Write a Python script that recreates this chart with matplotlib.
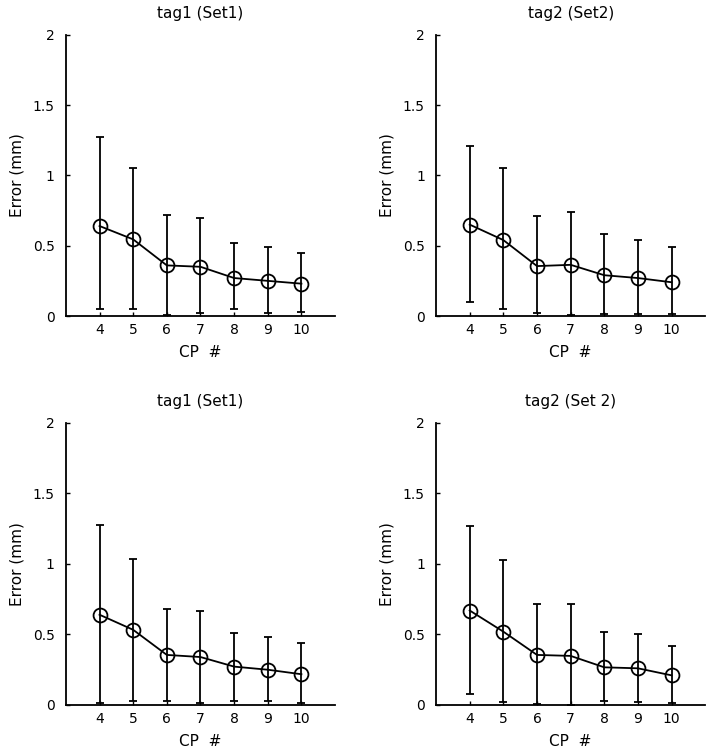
import matplotlib.pyplot as plt

plt.rcParams['font.family'] = ['DejaVu Sans']

cp = [4, 5, 6, 7, 8, 9, 10]

# tag1 (Set1), top
mean_a = [0.64, 0.545, 0.36, 0.35, 0.27, 0.25, 0.23]
upper_a = [1.27, 1.05, 0.72, 0.70, 0.52, 0.49, 0.445]
lower_a = [0.047, 0.047, 0.005, 0.024, 0.047, 0.024, 0.03]

# tag2 (Set2), top
mean_b = [0.65, 0.54, 0.355, 0.364, 0.29, 0.27, 0.24]
upper_b = [1.21, 1.05, 0.71, 0.74, 0.58, 0.537, 0.49]
lower_b = [0.10, 0.052, 0.024, 0.005, 0.017, 0.017, 0.017]

# tag1 (Set1), bottom
mean_c = [0.64, 0.533, 0.355, 0.34, 0.272, 0.25, 0.218]
upper_c = [1.278, 1.037, 0.684, 0.67, 0.51, 0.48, 0.443]
lower_c = [0.012, 0.03, 0.03, 0.012, 0.03, 0.03, 0.012]

# tag2 (Set 2), bottom
mean_d = [0.67, 0.52, 0.355, 0.348, 0.267, 0.26, 0.21]
upper_d = [1.27, 1.027, 0.715, 0.715, 0.52, 0.50, 0.42]
lower_d = [0.076, 0.02, 0.005, 0.0, 0.03, 0.02, 0.012]

titles = ["tag1 (Set1)", "tag2 (Set2)", "tag1 (Set1)", "tag2 (Set 2)"]
data = [(mean_a, lower_a, upper_a), (mean_b, lower_b, upper_b),
        (mean_c, lower_c, upper_c), (mean_d, lower_d, upper_d)]
boxes = [[0.092, 0.582, 0.376, 0.372], [0.609, 0.582, 0.376, 0.372],
         [0.092, 0.0675, 0.376, 0.373], [0.609, 0.0675, 0.376, 0.373]]

fig = plt.figure(figsize=(7.16, 7.56), dpi=100)

for box, title, (m, lo, up) in zip(boxes, titles, data):
    ax = fig.add_axes(box)
    err = [[mi - l for mi, l in zip(m, lo)], [u - mi for mi, u in zip(m, up)]]
    ax.errorbar(cp, m, yerr=err, color='black', lw=1.3, elinewidth=1.3,
                capsize=3, capthick=1.3, marker='o', markersize=10,
                markerfacecolor='none', markeredgewidth=1.3)
    ax.set_xlim(3, 11)
    ax.set_ylim(0, 2)
    ax.set_xticks(cp)
    ax.set_yticks([0, 0.5, 1, 1.5, 2])
    ax.set_yticklabels(['0', '0.5', '1', '1.5', '2'])
    ax.spines['top'].set_visible(False)
    ax.spines['right'].set_visible(False)
    ax.spines['left'].set_linewidth(1.3)
    ax.spines['bottom'].set_linewidth(1.3)
    ax.tick_params(direction='in', length=3, width=1, labelsize=10)
    ax.tick_params(axis='x', pad=5)
    ax.tick_params(axis='y', pad=8)
    ax.set_title(title, fontsize=11, pad=12)
    ax.set_xlabel('CP  #', fontsize=11, labelpad=6)
    ax.set_ylabel('Error (mm)', fontsize=11, labelpad=6)

fig.savefig('out.png', dpi=100)
